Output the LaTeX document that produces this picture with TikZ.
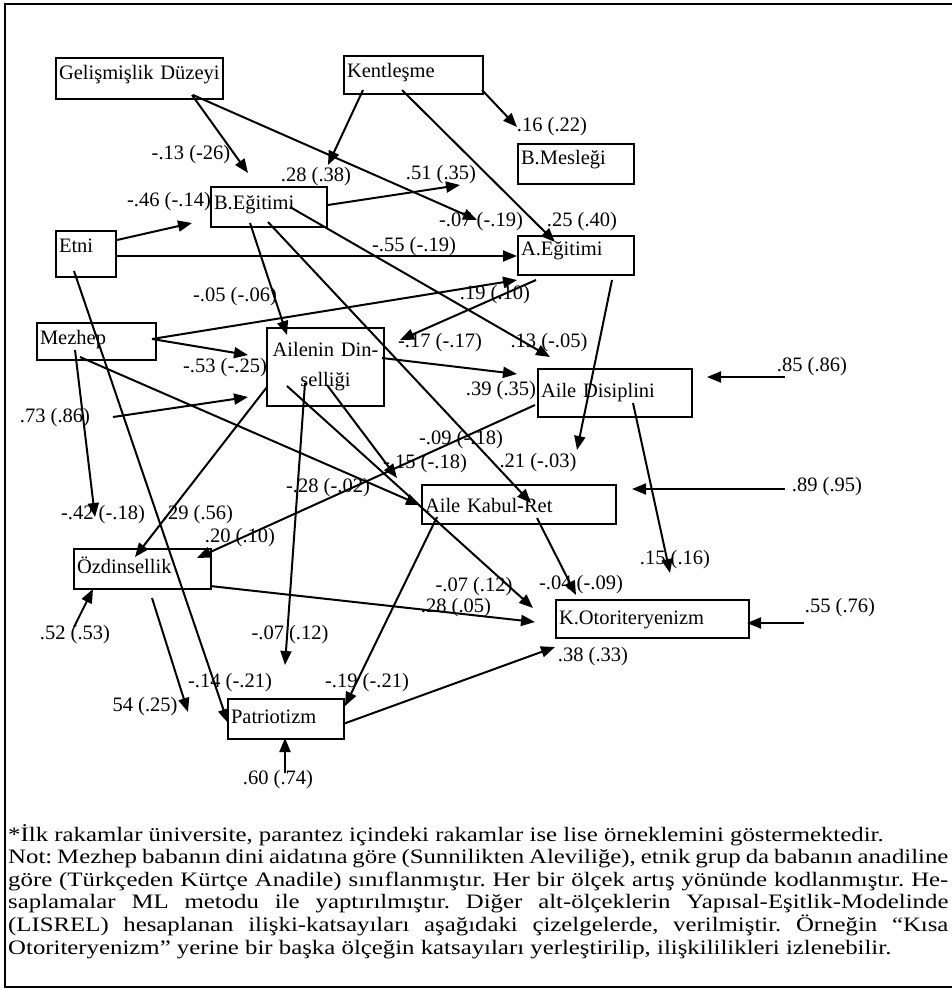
\documentclass[tikz,border=0pt]{standalone}
\usepackage{fontspec}
\usepackage{graphicx}
\setmainfont{Liberation Serif}
\usetikzlibrary{arrows.meta,calc}
\frenchspacing
\newcommand\fnwide[1]{\scalebox{1.21}[1]{#1}}
\newcommand\fnjust[1]{\scalebox{1.21}[1]{\makebox[777pt][s]{#1}}}
\begin{document}
\begin{tikzpicture}[x=1pt,y=-1pt,
  font=\fontsize{20.5}{23}\selectfont\frenchspacing,
  box/.style={draw, line width=2pt, anchor=north west, inner xsep=3pt, inner ysep=0pt, align=left, text height=14.4pt, text depth=5.1pt},
  lab/.style={inner sep=0pt, anchor=center},
  arr/.style={line width=2pt, -{Triangle[length=14pt,width=11pt]}},
  note/.style={inner sep=0pt, anchor=base west}]
\useasboundingbox (0,0) rectangle (952,990);
\draw[line width=2pt] (5,4) rectangle (965,987);

% boxes
\node[box, text width=161pt, minimum height=41pt, text depth=11.7pt] (gel) at (55,57) {Gelişmişlik Düzeyi};
\node[box, text width=133pt, minimum height=38pt, text depth=8.7pt] (kent) at (343,55) {Kentleşme};
\node[box, text width=110pt, minimum height=40pt, text depth=12.7pt] (bmes) at (517,143) {B.Mesleği};
\node[box, text width=110pt, minimum height=40pt, text depth=8.7pt] (begi) at (210,186) {B.Eğitimi};
\node[box, text width=54pt, minimum height=46pt, text depth=16.7pt] (etni) at (55,230) {Etni};
\node[box, text width=110pt, minimum height=39pt, text depth=13.7pt] (aegi) at (517,235) {A.Eğitimi};
\node[box, text width=113pt, minimum height=37pt, text depth=7.7pt] (mez) at (36,322) {Mezhep};
\node[box, text width=111pt, minimum height=78pt, align=center, text height={}, text depth={}] (adin) at (266,327) {Ailenin Din-\\[7pt]selliği};
\node[box, text width=148pt, minimum height=48pt] (adis) at (537,368) {Aile Disiplini};
\node[box, text width=188pt, minimum height=39pt, text height=21.7pt] (akr) at (421,484) {Aile Kabul-Ret};
\node[box, text width=131pt, minimum height=40pt] (ozd) at (73,548) {Özdinsellik};
\node[box, text width=187pt, minimum height=38pt, text height=16.7pt] (koto) at (555,599) {K.Otoriteryenizm};
\node[box, text width=110pt, minimum height=40pt] (pat) at (227,698) {Patriotizm};

% free ends
\coordinate (d-adin) at (113,417);
\coordinate (d-adis) at (785,377);
\coordinate (d-akr) at (785,489);
\coordinate (d-ozd) at (74,627);
\coordinate (d-pat) at (285,773);
\coordinate (d-koto) at (804,623);

% arrows
\draw[arr] ($(gel.north west)+(137,38)$) -- ($(begi.north west)+(38,-13)$);
\draw[arr] ($(gel.north west)+(138,38)$) -- ($(aegi.north west)+(-40,-15)$);
\draw[arr] ($(kent.north west)+(20,35)$) -- ($(begi.north west)+(118,-21)$);
\draw[arr] ($(kent.north west)+(59,35)$) -- ($(aegi.north west)+(38,7)$);
\draw[arr] ($(kent.north west)+(139,35)$) -- ($(bmes.north west)+(0,-16)$);
\draw[arr] ($(begi.north west)+(118,19)$) -- ($(bmes.north west)+(-57,42)$);
\draw[arr] ($(etni.north west)+(62,10)$) -- ($(begi.north west)+(-18,37)$);
\draw[arr] ($(etni.north west)+(60,26)$) -- ($(aegi.north west)+(0,21)$);
\draw[arr] ($(begi.north west)+(80,21)$) -- ($(adis.north west)+(13,-11)$);
\draw[arr] ($(begi.north west)+(40,37)$) -- ($(adin.north west)+(21,8)$);
\draw[arr] ($(begi.north west)+(58,36)$) -- ($(akr.north west)+(110,19)$);
\draw[arr] ($(mez.north west)+(116,17)$) -- ($(aegi.north west)+(0,45)$);
\draw[arr] ($(mez.north west)+(116,17)$) -- ($(adin.north west)+(-18,28)$);
\draw[arr] ($(aegi.north west)+(19,45)$) -- ($(adin.north west)+(134,13)$);
\draw[arr] (d-adin) -- ($(adin.north west)+(-18,70)$);
\draw[arr] ($(adin.north west)+(116,31)$) -- ($(adis.north west)+(-20,6)$);
\draw[arr] ($(mez.north west)+(44,35)$) -- ($(akr.north west)+(-1,21)$);
\draw[arr] ($(adis.north west)+(-2,37)$) -- ($(ozd.north west)+(124,10)$);
\draw[arr] ($(adin.north west)+(1,60)$) -- ($(ozd.north west)+(62,9)$);
\draw[arr] ($(mez.north west)+(39,28)$) -- ($(ozd.north west)+(22,-31)$);
\draw[arr] ($(etni.north west)+(19,41)$) -- ($(pat.north west)+(1,25)$);
\draw[arr] ($(aegi.north west)+(95,45)$) -- ($(akr.north west)+(156,-34)$);
\draw[arr] ($(adis.north west)+(96,35)$) -- ($(koto.north west)+(115,-26)$);
\draw[arr] (d-adis) -- ($(adis.north west)+(170,9)$);
\draw[arr] (d-akr) -- ($(akr.north west)+(211,5)$);
\draw[arr] ($(akr.north west)+(116,34)$) -- ($(koto.north west)+(21,-4)$);
\draw[arr] ($(akr.north west)+(16,33)$) -- ($(pat.north west)+(118,8)$);
\draw[arr] ($(ozd.north west)+(137,38)$) -- ($(koto.north west)+(-20,23)$);
\draw[arr] ($(ozd.north west)+(79,50)$) -- ($(pat.north west)+(-39,14)$);
\draw[arr] (d-ozd) -- ($(ozd.north west)+(20,41)$);
\draw[arr] (d-pat) -- ($(pat.north west)+(58,40)$);
\draw[arr] ($(pat.north west)+(116,26)$) -- ($(koto.north west)+(0,48)$);
\draw[arr] (d-koto) -- ($(koto.north west)+(192,24)$);
\draw[arr] ($(adin.north west)+(39,56)$) -- ($(pat.north west)+(58,-33)$);
\draw[arr] ($(adin.north west)+(61,58)$) -- ($(akr.north west)+(-24,-6)$);
\draw[arr] ($(adin.north west)+(21,59)$) -- ($(koto.north west)+(-22,9)$);

% labels
\node[lab] (l1) at (191,155) {-.13 (-26)};
\node[lab] (l2) at (316,177) {.28 (.38)};
\node[lab] (l3) at (441,175) {.51 (.35)};
\node[lab] (l4) at (552,127) {.16 (.22)};
\node[lab] (l5) at (169,202) {-.46 (-.14)};
\node[lab] (l6) at (481,222) {-.07 (-.19)};
\node[lab] (l7) at (582,222) {.25 (.40)};
\node[lab] (l8) at (414,247) {-.55 (-.19)};
\node[lab] (l9) at (235,297) {-.05 (-.06)};
\node[lab] (l10) at (495,295) {.19 (.10)};
\node[lab] (l11) at (440,343) {-.17 (-.17)};
\node[lab] (l12) at (549,343) {.13 (-.05)};
\node[lab] (l13) at (225,368) {-.53 (-.25)};
\node[lab] (l14) at (501,391) {.39 (.35)};
\node[lab] (l15) at (812,367) {.85 (.86)};
\node[lab] (l16) at (55,418) {.73 (.86)};
\node[lab] (l17) at (461,440) {-.09 (-.18)};
\node[lab] (l18) at (425,464) {-.15 (-.18)};
\node[lab] (l19) at (538,463) {.21 (-.03)};
\node[lab] (l20) at (328,488) {-.28 (-.02)};
\node[lab] (l21) at (827,487) {.89 (.95)};
\node[lab] (l22) at (103,515) {-.42 (-.18)};
\node[lab] (l23) at (198,515) {.29 (.56)};
\node[lab] (l24) at (240,538) {.20 (.10)};
\node[lab] (l25) at (75,635) {.52 (.53)};
\node[lab] (l26) at (474,587) {-.07 (.12)};
\node[lab] (l27) at (581,585) {-.04 (-.09)};
\node[lab] (l28) at (675,560) {.15 (.16)};
\node[lab] (l29) at (456,608) {.28 (.05)};
\node[lab] (l30) at (840,608) {.55 (.76)};
\node[lab] (l31) at (593,657) {.38 (.33)};
\node[lab] (l32) at (290,635) {-.07 (.12)};
\node[lab] (l33) at (230,683) {-.14 (-.21)};
\node[lab] (l34) at (367,683) {-.19 (-.21)};
\node[lab] (l35) at (145,707) {54 (.25)};
\node[lab] (l36) at (278,780) {.60 (.74)};

% footnote
\node[note] (fn1) at (8,841) {\fnwide{*İlk rakamlar üniversite, parantez içindeki rakamlar ise lise örneklemini göstermektedir.}};
\node[note] (fn2) at (8,863.6) {\fnjust{Not: Mezhep babanın dini aidatına göre (Sunnilikten Aleviliğe), etnik grup da babanın anadiline}};
\node[note] (fn3) at (8,886.2) {\fnjust{göre (Türkçeden Kürtçe Anadile) sınıflanmıştır. Her bir ölçek artış yönünde kodlanmıştır. He-}};
\node[note] (fn4) at (8,908.8) {\fnjust{saplamalar ML metodu ile yaptırılmıştır. Diğer alt-ölçeklerin Yapısal-Eşitlik-Modelinde}};
\node[note] (fn5) at (8,931.4) {\fnjust{(LISREL) hesaplanan ilişki-katsayıları aşağıdaki çizelgelerde, verilmiştir. Örneğin “Kısa}};
\node[note] (fn6) at (8,954) {\fnwide{Otoriteryenizm” yerine bir başka ölçeğin katsayıları yerleştirilip, ilişkililikleri izlenebilir.}};
\end{tikzpicture}
\end{document}
